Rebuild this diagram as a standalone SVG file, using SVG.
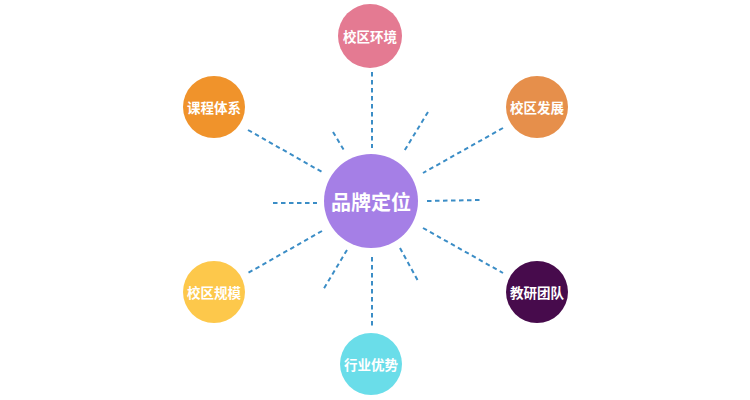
<svg xmlns="http://www.w3.org/2000/svg" width="750" height="400" viewBox="0 0 750 400">
<style>
.node text{font-family:"Noto Sans CJK SC","Noto Sans CJK JP",sans-serif;font-weight:bold;fill:#fff;text-anchor:middle;dominant-baseline:central}
.small{font-size:13.5px}
.big{font-size:20px}
.conn line{stroke:#3B8DC6;stroke-width:2;stroke-dasharray:4.5 3.5;fill:none}
</style>
<rect width="750" height="400" fill="#fff"/>
<g id="connectors" class="conn">
<line x1="372" y1="72" x2="372" y2="148"/>
<line x1="333" y1="132" x2="345" y2="152"/>
<line x1="248" y1="130" x2="322" y2="172"/>
<line x1="428" y1="112" x2="403" y2="153"/>
<line x1="503" y1="128" x2="423" y2="173"/>
<line x1="273" y1="203" x2="317" y2="203"/>
<line x1="427" y1="201" x2="480" y2="200"/>
<line x1="322" y1="231" x2="248" y2="273"/>
<line x1="347" y1="250" x2="323" y2="290"/>
<line x1="372" y1="257" x2="372" y2="327"/>
<line x1="400" y1="248" x2="418" y2="281"/>
<line x1="423" y1="228" x2="503" y2="273"/>
</g>
<g id="center" class="node">
<circle cx="371" cy="201" r="47" fill="#A57FE6"/>
<text class="big" x="371" y="201">品牌定位</text>
</g>
<g id="n-top" class="node">
<circle cx="370" cy="36" r="32" fill="#E47A92"/>
<text class="small" x="370" y="36">校区环境</text>
</g>
<g id="n-ul" class="node">
<circle cx="214" cy="107" r="31" fill="#F0932B"/>
<text class="small" x="214" y="107">课程体系</text>
</g>
<g id="n-ur" class="node">
<circle cx="537" cy="107" r="31" fill="#E68F4B"/>
<text class="small" x="537" y="107">校区发展</text>
</g>
<g id="n-ll" class="node">
<circle cx="214" cy="292" r="31" fill="#FDC84B"/>
<text class="small" x="214" y="292">校区规模</text>
</g>
<g id="n-lr" class="node">
<circle cx="537" cy="292" r="31" fill="#470B4C"/>
<text class="small" x="537" y="292">教研团队</text>
</g>
<g id="n-bottom" class="node">
<circle cx="371" cy="364" r="31" fill="#6ADDE9"/>
<text class="small" x="371" y="364">行业优势</text>
</g>
</svg>
